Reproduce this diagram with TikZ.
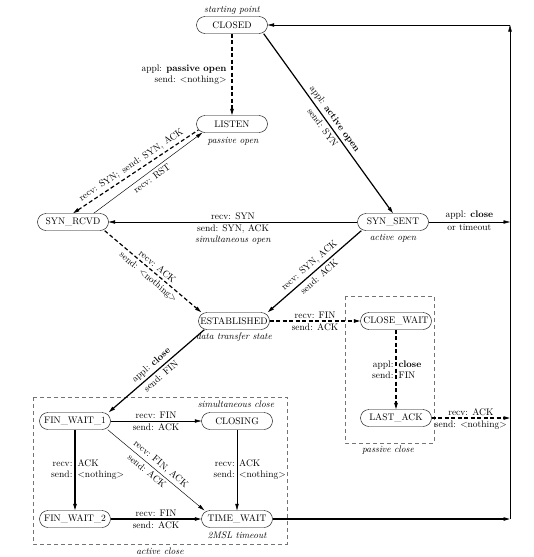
\documentclass[tikz,border=0pt]{standalone}
\usetikzlibrary{arrows.meta}
\newcommand{\nothingmsg}{\textless nothing\textgreater}

\begin{document}
\begin{tikzpicture}[x=1pt, y=-1pt,
  font=\fontsize{9.5}{11}\selectfont,
  >={Triangle[length=6.5pt,width=3.4pt]},
  state/.style={draw, rounded corners=8.5pt, minimum width=71pt, minimum height=17pt, inner xsep=1pt, inner ysep=2pt},
  fineline/.style={line width=0.45pt},
  boldline/.style={line width=1.2pt},
  dashline/.style={line width=1.2pt, dash pattern=on 4pt off 2.5pt},
  lbl/.style={inner sep=2pt},
  slbl/.style={sloped, inner sep=2.8pt},
  note/.style={font=\fontsize{9.5}{11}\selectfont\itshape},
  group/.style={draw=black!55, line width=0.45pt, dash pattern=on 4pt off 3pt}]
  \useasboundingbox (0,0) rectangle (533,557);

  % States
  \node[state] (closed) at (232,25) {CLOSED};
  \node[state] (listen) at (232,124) {LISTEN};
  \node[state] (synrcvd) at (73,222) {SYN\_RCVD};
  \node[state] (synsent) at (393,222) {SYN\_SENT};
  \node[state] (estab) at (234,321) {ESTABLISHED};
  \node[state] (closewait) at (396,321) {CLOSE\_WAIT};
  \node[state] (lastack) at (396,418) {LAST\_ACK};
  \node[state] (finwait1) at (75,421) {FIN\_WAIT\_1};
  \node[state] (closing) at (237,421) {CLOSING};
  \node[state] (finwait2) at (75,519) {FIN\_WAIT\_2};
  \node[state] (timewait) at (237,519) {TIME\_WAIT};

  % Notes
  \node[note] (startnote) at (232,10) {starting point};
  \node[note] (listennote) at (233,141) {passive open};
  \node[note] (synsentnote) at (393,238) {active open};
  \node[note] (estabnote) at (234,337) {data transfer state};
  \node[note] (closingnote) at (236,404) {simultaneous close};
  \node[note] (timewaitnote) at (237,535) {2MSL timeout};

  % Dashed groups
  \draw[group] (345,296) rectangle (434,443);
  \node[note] (passivenote) at (388,450) {passive close};
  \draw[group] (33,397) rectangle (287,544);
  \node[note] (activenote) at (160,551) {active close};

  % Right-hand return line
  \coordinate (rtop) at (510,25);
  \coordinate (rsyn) at (510,222);
  \coordinate (rack) at (510,418);
  \coordinate (rbot) at (510,519);
  \draw[fineline,->] (rbot) -- (rtop);
  \draw[fineline,->] (rtop) -- (closed);

  % Opening
  \draw[dashline,->] (closed) -- node[lbl, left, inner xsep=5pt, align=right] {appl: \textbf{passive open}\\send: \nothingmsg} (listen);
  \draw[boldline,->] ([xshift=-4pt]closed.south east) -- node[slbl, above] {appl: \textbf{active open}} node[slbl, below] {send: SYN} (synsent.north);
  \draw[dashline,<-] (synrcvd.north) -- node[slbl, above] {recv: SYN;\enspace send: SYN, ACK} ([xshift=2pt,yshift=-6pt]listen.west);
  \draw[fineline,->] ([xshift=-15pt]synrcvd.north east) -- node[slbl, below] {recv: RST} ([xshift=6pt]listen.south west);
  \draw[fineline,->] (synsent) -- node[lbl, above] {recv: SYN} node[lbl, below, align=center] {send: SYN, ACK\\\textit{simultaneous open}} (synrcvd);
  \draw[fineline,->] (synsent) -- node[lbl, above] {appl: \textbf{close}} node[lbl, below] {or timeout} (rsyn);
  \draw[dashline,->] ([xshift=-4pt]synrcvd.south east) -- node[slbl, above] {recv: ACK} node[slbl, below] {send: \nothingmsg} ([xshift=3pt]estab.north west);
  \draw[boldline,<-] ([xshift=-2pt]estab.north east) -- node[slbl, above] {recv: SYN, ACK} node[slbl, below] {send: ACK} ([xshift=4pt]synsent.south west);

  % Passive close
  \draw[dashline,->] (estab) -- node[lbl, above] {recv: FIN} node[lbl, below] {send: ACK} (closewait);
  \draw[dashline,->] (closewait) -- node[lbl, left, align=right] {appl:\\send:} node[lbl, right, align=left] {\textbf{close}\\FIN} (lastack);
  \draw[dashline,->] (lastack) -- node[lbl, above] {recv: ACK} node[lbl, below] {send: \nothingmsg} (rack);

  % Active close
  \draw[boldline,<-] ([xshift=-2pt]finwait1.north east) -- node[slbl, above] {appl: \textbf{close}} node[slbl, below] {send: FIN} ([xshift=6pt]estab.south west);
  \draw[fineline,->] (finwait1) -- node[lbl, above] {recv: FIN} node[lbl, below] {send: ACK} (closing);
  \draw[fineline,->] ([xshift=-3pt]finwait1.south east) -- node[slbl, above] {recv: FIN, ACK} node[slbl, below, pos=0.45] {send: ACK} ([xshift=3pt]timewait.north west);
  \draw[boldline,->] (finwait1) -- node[lbl, left, align=right] {recv:\\send:} node[lbl, right, align=left] {ACK\\\nothingmsg} (finwait2);
  \draw[fineline,->] (closing) -- node[lbl, left, align=right] {recv:\\send:} node[lbl, right, align=left] {ACK\\\nothingmsg} (timewait);
  \draw[boldline,->] (finwait2) -- node[lbl, above] {recv: FIN} node[lbl, below] {send: ACK} (timewait);
  \draw[boldline,->] (timewait) -- (rbot);
\end{tikzpicture}
\end{document}
